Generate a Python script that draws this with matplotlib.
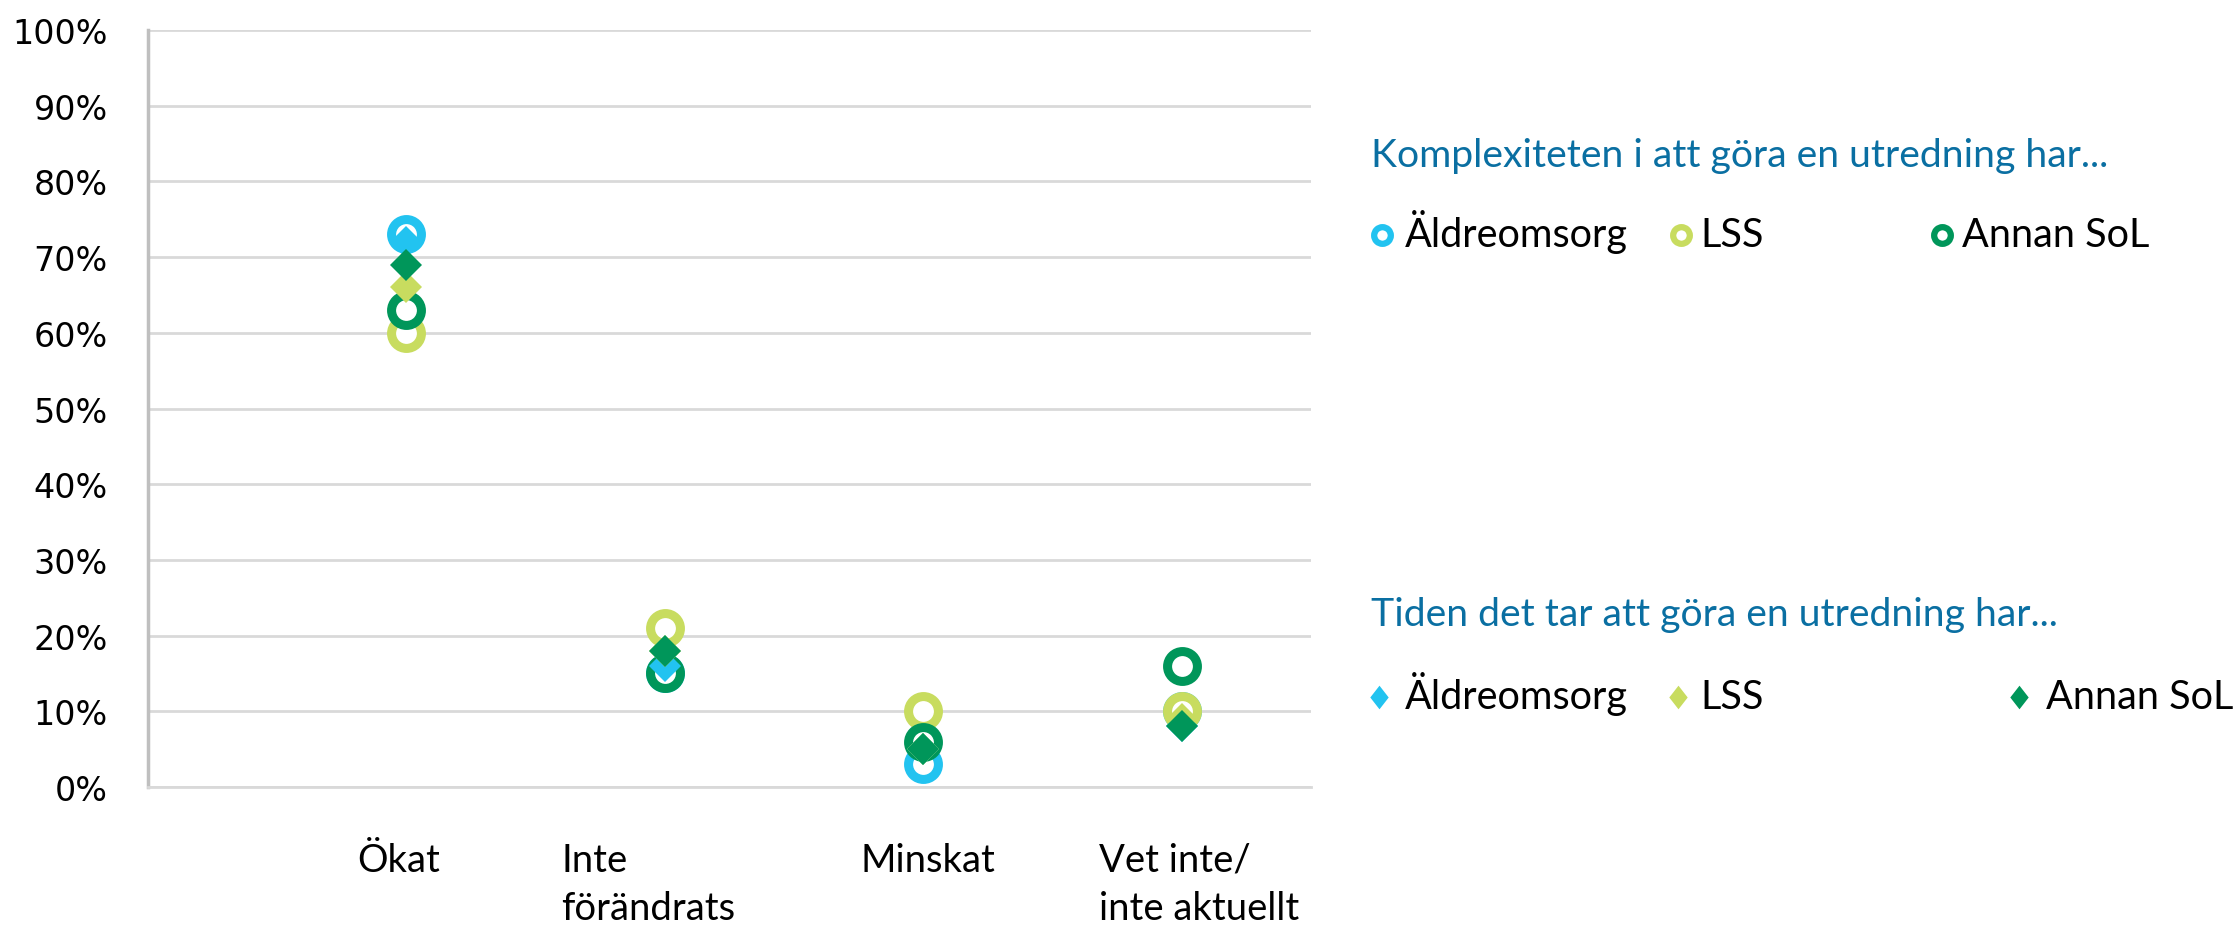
import matplotlib
matplotlib.use("Agg")
import matplotlib.pyplot as plt
from matplotlib.ticker import PercentFormatter
from matplotlib.lines import Line2D

# ---------------- data ----------------
categories = ["Ökat", "Inte\nförändrats", "Minskat", "Vet inte/\ninte aktuellt"]
series_names = ["Äldreomsorg", "LSS", "Annan SoL"]
# Komplexiteten i att göra en utredning har... (rings)
komplex_aldre = [73, 15, 3, 10]
komplex_lss = [60, 21, 10, 10]
komplex_annan = [63, 15, 6, 16]
# Tiden det tar att göra en utredning har... (diamonds)
tid_aldre = [72, 16, 5, 8]
tid_lss = [66, 18, 5, 9]
tid_annan = [69, 18, 5, 8]
title_komplex = "Komplexiteten i att göra en utredning har..."
title_tid = "Tiden det tar att göra en utredning har..."
yticks = [0, 10, 20, 30, 40, 50, 60, 70, 80, 90, 100]

colors = ["#22C3F0", "#C8DC5F", "#00965A"]
title_color = "#0A6FA2"
TXT_FONT = ["Lato", "DejaVu Sans"]
LEG_DIAMOND = [(0, 1), (0.78, 0), (0, -1), (-0.78, 0), (0, 1)]

W, H = 2234, 929
fig = plt.figure(figsize=(W / 100, H / 100), dpi=100)
ax = fig.add_axes([148 / W, 1 - 788 / H, (1311 - 148) / W, (788 - 31) / H])

xpos = list(range(1, len(categories) + 1))
for vals, c in zip([komplex_aldre, komplex_lss, komplex_annan], colors):
    ax.plot(xpos, vals, linestyle="none", marker="o", ms=21.5, mew=6.5,
            mec=c, mfc="white", zorder=3)
for vals, c in zip([tid_aldre, tid_lss, tid_annan], colors):
    ax.plot(xpos, vals, linestyle="none", marker="D", ms=16, mew=0,
            mfc=c, zorder=4)

ax.set_xlim(0, 4.5)
ax.set_ylim(0, 100)
ax.set_yticks(yticks)
ax.yaxis.set_major_formatter(PercentFormatter(decimals=0))
ax.tick_params(axis="y", length=0, pad=29, labelsize=24)
ax.tick_params(axis="x", length=0, labelbottom=False)
ax.set_xticks([])
ax.grid(axis="y", color="#D9D9D9", linewidth=2)
ax.set_axisbelow(True)
for s in ["top", "right"]:
    ax.spines[s].set_visible(False)
ax.spines["left"].set_color("#BFBFBF")
ax.spines["left"].set_linewidth(2.5)
ax.spines["bottom"].set_color("#D9D9D9")
ax.spines["bottom"].set_linewidth(2)
for lab in ax.get_yticklabels():
    lab.set_fontfamily("DejaVu Sans")

# category labels (left aligned text lines below the axis)
label_x = [0.81, 1.60, 2.755, 3.68]
trans = ax.get_xaxis_transform()
for cat, lx in zip(categories, label_x):
    for i, line in enumerate(cat.split("\n")):
        ax.text(lx, (788 - 872 - 48 * i) / 757, line, transform=trans,
                ha="left", va="baseline", fontsize=27.5, family=TXT_FONT,
                color="black")

# custom legends in figure pixel space
lax = fig.add_axes([0, 0, 1, 1])
lax.set_xlim(0, W)
lax.set_ylim(H, 0)
lax.axis("off")

def legend_block(title, title_y, row_y, mxs, txs, marker):
    lax.text(1371, title_y, title, ha="left", va="baseline", fontsize=28.2,
             family=TXT_FONT, color=title_color)
    for name, c, mx, tx in zip(series_names, colors, mxs, txs):
        if marker == "o":
            lax.add_line(Line2D([mx], [row_y], marker="o", ms=12, mew=4.5,
                                mec=c, mfc="white", linestyle="none"))
        else:
            lax.add_line(Line2D([mx], [row_y], marker=LEG_DIAMOND, ms=17,
                                mew=0, mfc=c, linestyle="none"))
        lax.text(tx, row_y + 11, name, ha="left", va="baseline", fontsize=28.5,
                 family=TXT_FONT, color="black")

legend_block(title_komplex, 167, 236, [1382, 1681, 1942], [1405, 1700, 1962], "o")
legend_block(title_tid, 626, 698, [1379, 1678, 2019], [1405, 1700, 2046], "d")

fig.savefig("out.png", dpi=100, facecolor="white")
